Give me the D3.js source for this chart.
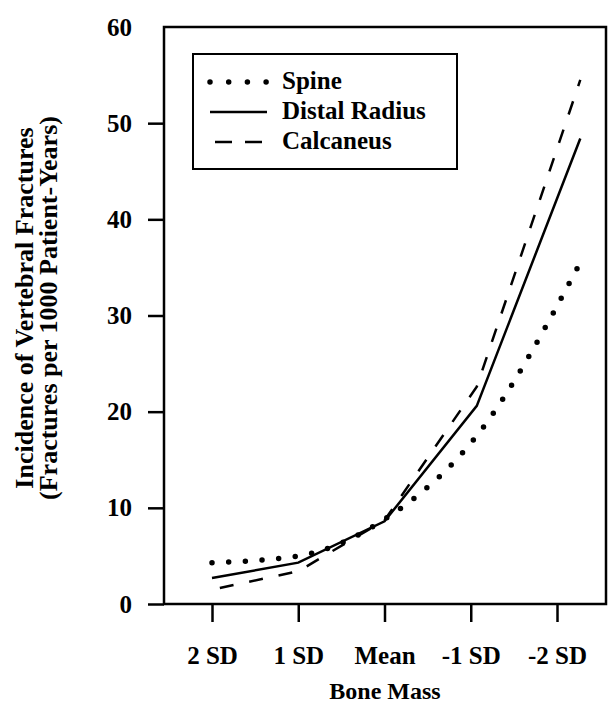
<!DOCTYPE html>
<html>
<head>
<meta charset="utf-8">
<script src="https://cdn.jsdelivr.net/npm/d3@7"></script>
<style>
    body { margin: 0; background: #fff; }
    svg { display: block; }
    text { font-family: "Liberation Serif", "Times New Roman", serif; font-weight: bold; fill: #000; }
</style>
</head>
<body>
<svg width="608" height="706"></svg>
<script>
// du lieu doc tu hinh
let sdTicks = [2, 1, 0, -1, -2];
let tickLabels = ["2 SD", "1 SD", "Mean", "-1 SD", "-2 SD"];
let yTicks = [0, 10, 20, 30, 40, 50, 60];
let lineSD = [2, 1, 0, -1.07, -2.27]; // vi tri cac diem tren duong (lech mot chut so voi tick)
let spine = [4.3, 5.0, 8.8, 17.5, 35.5];
let radius = [2.7, 4.3, 8.6, 20.6, 48.4];
let calcaneus = [1.5, 3.4, 8.7, 22.6, 54.5];
let seriesNames = ["Spine", "Distal Radius", "Calcaneus"];

let s = d3.select("svg");

let pLeft = 164, pRight = 606, pTop = 27, pBottom = 604;

let x = d3.scaleLinear().domain([2, -2]).range([212, 557]);
let y = d3.scaleLinear().domain([0, 60]).range([pBottom, pTop]);

// khung
s.append("rect")
    .attr("x", pLeft)
    .attr("y", pTop)
    .attr("width", pRight - pLeft)
    .attr("height", pBottom - pTop)
    .attr("fill", "none")
    .attr("stroke", "#000")
    .attr("stroke-width", 2.5);

// truc y
let yAxis = s.append("g")
    .attr("transform", "translate(" + pLeft + ",0)")
    .call(d3.axisLeft(y).tickValues(yTicks).tickSize(16).tickPadding(16));
yAxis.select(".domain").remove();
yAxis.selectAll("line").attr("stroke-width", 2.5);
yAxis.selectAll(".tick").filter(d => d === 60).select("line").remove();
yAxis.selectAll("text")
    .attr("font-size", "25px")
    .attr("font-family", "Liberation Serif")
    .attr("font-weight", "bold");

// truc x
let xAxis = s.append("g")
    .attr("transform", "translate(0," + pBottom + ")")
    .call(d3.axisBottom(x).tickValues(sdTicks).tickSize(18).tickPadding(24)
        .tickFormat((d, i) => tickLabels[i]));
xAxis.select(".domain").remove();
xAxis.selectAll("line").attr("stroke-width", 2.5);
xAxis.selectAll("text")
    .attr("font-size", "25px")
    .attr("font-family", "Liberation Serif")
    .attr("font-weight", "bold");

// ten truc
s.append("text")
    .attr("x", 385)
    .attr("y", 699)
    .attr("text-anchor", "middle")
    .attr("font-size", "24px")
    .text("Bone Mass");

let yt = s.append("text")
    .attr("transform", "translate(0,308) rotate(-90)")
    .attr("text-anchor", "middle")
    .attr("font-size", "26px");
yt.append("tspan").attr("x", 0).attr("y", 33).text("Incidence of Vertebral Fractures");
yt.append("tspan").attr("x", 0).attr("y", 57).text("(Fractures per 1000 Patient-Years)");

// ve cac duong
let lineLinear = d3.line()
    .x((d, i) => x(lineSD[i]))
    .y(d => y(d));
let lineCurve = d3.line()
    .x((d, i) => x(lineSD[i]))
    .y(d => y(d))
    .curve(d3.curveMonotoneX);

let styles = [
    { dash: "0 16.7", width: 5.5, cap: "round" },
    { dash: null, width: 2.5, cap: "butt" },
    { dash: "14 16", width: 2.5, cap: "butt" }
];

s.append("path")
    .attr("d", lineCurve(spine))
    .attr("fill", "none")
    .attr("stroke", "#000")
    .attr("stroke-width", styles[0].width)
    .attr("stroke-linecap", styles[0].cap)
    .attr("stroke-dasharray", styles[0].dash);

s.append("path")
    .attr("d", lineLinear(radius))
    .attr("fill", "none")
    .attr("stroke", "#000")
    .attr("stroke-width", styles[1].width);

s.append("path")
    .attr("d", lineLinear(calcaneus))
    .attr("fill", "none")
    .attr("stroke", "#000")
    .attr("stroke-width", styles[2].width)
    .attr("stroke-dasharray", styles[2].dash)
    .attr("stroke-dashoffset", -8);

// chu thich
s.append("rect")
    .attr("x", 193)
    .attr("y", 54)
    .attr("width", 264)
    .attr("height", 115)
    .attr("fill", "#fff")
    .attr("stroke", "#000")
    .attr("stroke-width", 2);

let legendY = [82, 112, 142];
for (let i = 0; i < seriesNames.length; i++) {
    let g = s.append("g").attr("transform", "translate(0," + legendY[i] + ")");
    g.append("line")
        .attr("x1", i === 2 ? 215 : 210)
        .attr("x2", i === 2 ? 262 : 267)
        .attr("stroke", "#000")
        .attr("stroke-width", styles[i].width)
        .attr("stroke-linecap", styles[i].cap)
        .attr("stroke-dasharray", i === 0 ? "0 18.7" : (i === 2 ? "17 13" : null));
    g.append("text")
        .attr("x", 282)
        .attr("y", 7)
        .attr("font-size", "25px")
        .text(seriesNames[i]);
}
</script>
</body>
</html>
